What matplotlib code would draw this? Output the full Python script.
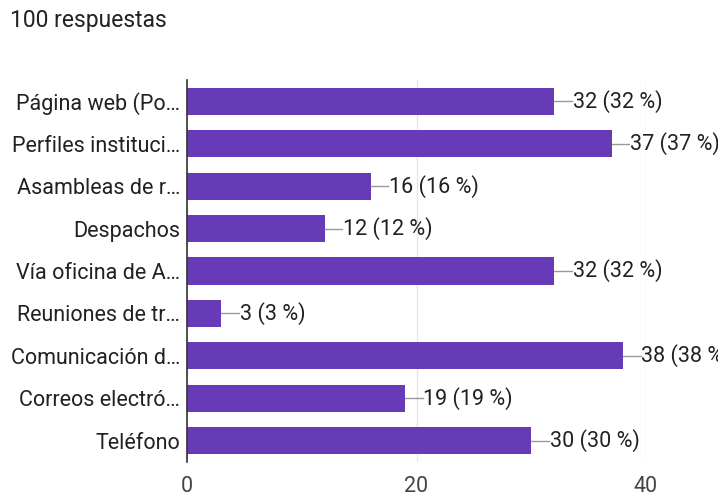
import matplotlib.pyplot as plt

categories = [
    "Página web (Po…",
    "Perfiles instituci…",
    "Asambleas de r…",
    "Despachos",
    "Vía oficina de A…",
    "Reuniones de tr…",
    "Comunicación d…",
    "Correos electró…",
    "Teléfono",
]
counts = [32, 37, 16, 12, 32, 3, 38, 19, 30]
total = 100
xticks = [0, 20, 40]

plt.rcParams["font.family"] = ["Roboto", "DejaVu Sans"]
text_color = "#212121"
bar_color = "#673AB7"
fs = 15.5

fig = plt.figure(figsize=(7.18, 4.97), dpi=100)
ax = fig.add_axes([187 / 718, 1 - 462 / 497, (646 - 187) / 718, (462 - 80) / 497])

ypos = list(range(len(categories)))
ax.barh(ypos, counts, height=0.64, color=bar_color, zorder=2)
ax.set_ylim(len(categories) - 0.5, -0.5)
ax.set_xlim(0, 40)

ax.set_yticks(ypos)
ax.set_yticklabels(categories, fontsize=fs, color=text_color)
ax.set_xticks(xticks)
ax.set_xticklabels([str(t) for t in xticks], fontsize=fs, color="#444444")
ax.tick_params(axis="y", length=0, pad=5)
ax.tick_params(axis="x", length=0, pad=10)

ax.grid(axis="x", color="#e6e6e6", linewidth=1, zorder=0)
for side in ["top", "right", "bottom"]:
    ax.spines[side].set_visible(False)
ax.spines["left"].set_color("#333333")
ax.spines["left"].set_linewidth(1.2)
ax.spines["left"].set_zorder(3)

# leader line + value label to the right of each bar
for y, c in zip(ypos, counts):
    ax.plot([c, c + 1.55], [y, y], color="#999999", linewidth=1, zorder=2, clip_on=False)
    ax.text(c + 1.6, y, f"{c} ({round(c * 100 / total)} %)", va="center", ha="left",
            fontsize=fs, color=text_color, clip_on=False)

fig.text(10 / 718, 1 - 27 / 497, f"{total} respuestas", fontsize=16.5, color=text_color,
         va="baseline", ha="left")

fig.savefig("out.png", dpi=100)
